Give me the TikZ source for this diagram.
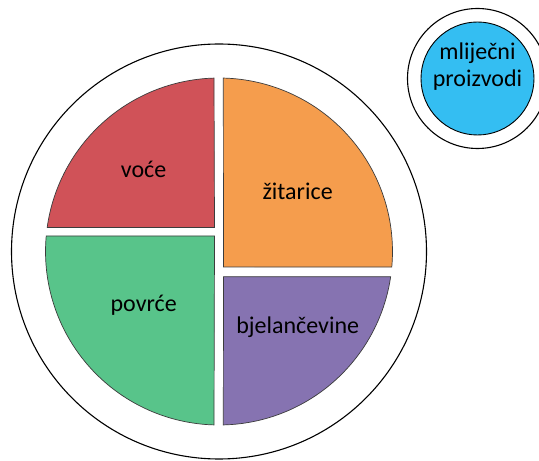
\documentclass[tikz,border=0pt]{standalone}
\usepackage{fontspec}
\setmainfont{Carlito}
\definecolor{cred}{RGB}{208,82,88}
\definecolor{corange}{RGB}{245,157,77}
\definecolor{cgreen}{RGB}{88,196,138}
\definecolor{cpurple}{RGB}{134,115,177}
\definecolor{cblue}{RGB}{52,190,242}
\definecolor{edgegray}{RGB}{60,60,60}
\begin{document}
\begin{tikzpicture}[x=1pt,y=1pt,
  ring/.style={draw=black,line width=1.1pt,fill=white},
  part/.style={draw=edgegray,line width=0.7pt},
  lbl/.style={font=\fontsize{24}{27}\selectfont,anchor=base,inner sep=0pt}]
\useasboundingbox (0,0) rectangle (539,461);
\clip (0,0) rectangle (539,461);
% plate
\coordinate (c) at (219,209.5);
\draw[ring] (c) circle[radius=207.5];
% quadrants (inner radius 173.5)
\fill[part,fill=cred] (214.5,233.5) -- ([shift={(c)}]91.65:173.5)
  arc[start angle=91.65,end angle=172.05,radius=173.5] -- cycle;
\fill[part,fill=cgreen] (214.5,225) -- ([shift={(c)}]174.87:173.5)
  arc[start angle=174.87,end angle=268.35,radius=173.5] -- cycle;
\fill[part,fill=corange] (223.5,194) -- ([shift={(c)}]-5.13:173.5)
  arc[start angle=-5.13,end angle=88.58,radius=173.5] -- cycle;
\fill[part,fill=cpurple] (223.5,184.3) -- ([shift={(c)}]271.42:173.5)
  arc[start angle=271.42,end angle=351.65,radius=173.5] -- cycle;
\node[lbl] (voce) at (143.6,283.3) {voće};
\node[lbl] (zitarice) at (297.6,261) {žitarice};
\node[lbl] (povrce) at (143.7,149.3) {povrće};
\node[lbl] (bjel) at (297.7,127) {bjelančevine};
% dairy cup
\coordinate (d) at (477.5,382.5);
\draw[ring] (d) circle[radius=70];
\draw[draw=black,line width=0.9pt,fill=cblue] (d) circle[radius=56.5];
\node[lbl] (mlijecni) at (477.5,401) {mliječni};
\node[lbl] (proizvodi) at (477.5,374.3) {proizvodi};
\end{tikzpicture}
\end{document}
